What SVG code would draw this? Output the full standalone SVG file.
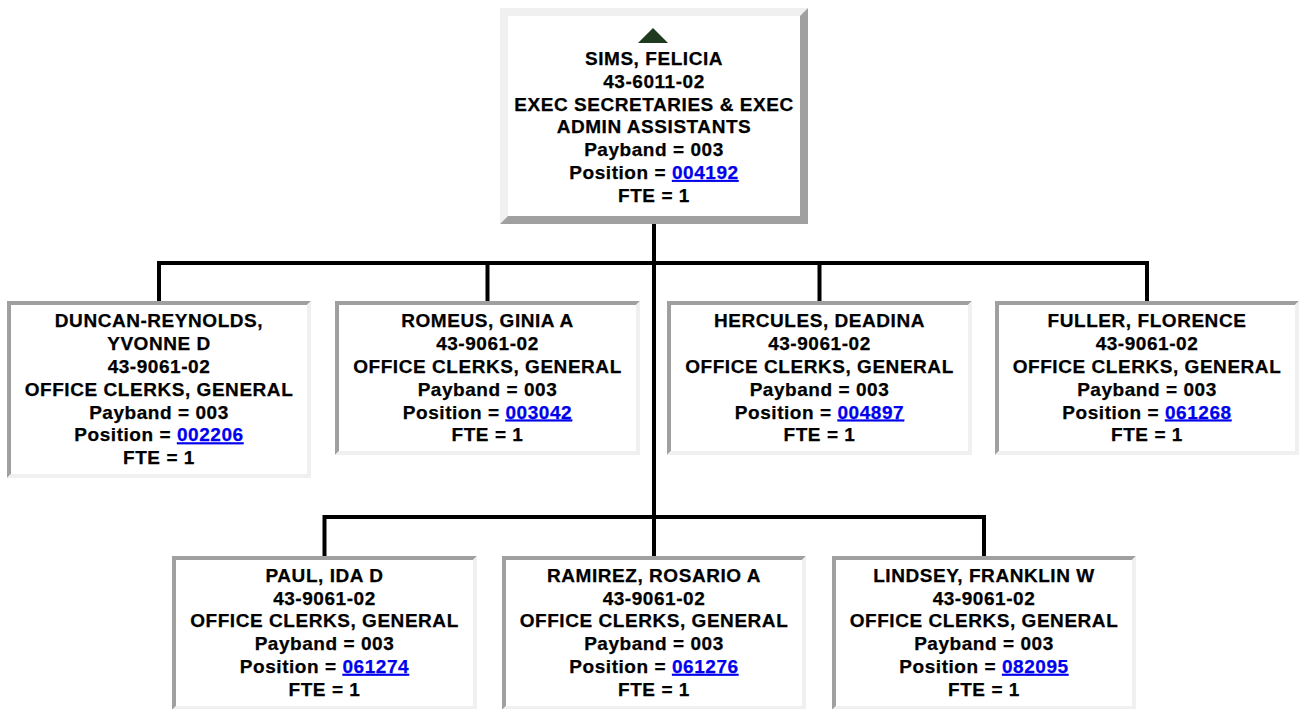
<svg xmlns="http://www.w3.org/2000/svg" width="1299" height="709" viewBox="0 0 1299 709">
<style>
.bg{fill:#ffffff}
.dk{fill:#a0a0a0}
.lt{fill:#f0f0f0}
.c{stroke:#000;stroke-width:4;fill:none}
text{font-family:"Liberation Sans",Arial,sans-serif;font-weight:bold;font-size:19px;letter-spacing:0.55px;fill:#000;stroke:#000;stroke-width:0.25px;text-anchor:middle}
.lk{fill:#0000ee;stroke:#0000ee;text-decoration:underline}
</style>
<rect width="1299" height="709" fill="#fff"/>
<g id="connectors">
<path class="c" d="M654 224V556"/>
<path class="c" d="M157 263H1149M159 263V301M487.5 263V301M819.5 263V301M1147 263V301"/>
<path class="c" d="M322.5 517H986M324.5 517V556M984 517V556"/>
</g>
<g id="sims">
<rect class="bg" x="500" y="8" width="308" height="216"/>
<polygon class="lt" points="500,8 808,8 800,16 508,16 508,216 500,224"/>
<polygon class="dk" points="808,8 808,224 500,224 508,216 800,216 800,16"/>
<polygon points="653,28 668,43 638,43" fill="#1f3a1f"/>
<text x="654" y="65">SIMS, FELICIA</text>
<text x="654" y="87.8">43-6011-02</text>
<text x="654" y="110.6">EXEC SECRETARIES &amp; EXEC</text>
<text x="654" y="133.4">ADMIN ASSISTANTS</text>
<text x="654" y="156.2">Payband = 003</text>
<text x="654" y="179">Position = <tspan class="lk">004192</tspan></text>
<text x="654" y="201.8">FTE = 1</text>
</g>
<g id="duncan">
<rect class="bg" x="7" y="301" width="304" height="177"/>
<polygon class="dk" points="7,301 311,301 307,305 11,305 11,474 7,478"/>
<polygon class="lt" points="311,301 311,478 7,478 11,474 307,474 307,305"/>
<text x="159" y="327.3">DUNCAN-REYNOLDS,</text>
<text x="159" y="350.1">YVONNE D</text>
<text x="159" y="372.9">43-9061-02</text>
<text x="159" y="395.7">OFFICE CLERKS, GENERAL</text>
<text x="159" y="418.5">Payband = 003</text>
<text x="159" y="441.3">Position = <tspan class="lk">002206</tspan></text>
<text x="159" y="464.1">FTE = 1</text>
</g>
<g id="romeus">
<rect class="bg" x="335" y="301" width="305" height="154"/>
<polygon class="dk" points="335,301 640,301 636,305 339,305 339,451 335,455"/>
<polygon class="lt" points="640,301 640,455 335,455 339,451 636,451 636,305"/>
<text x="487.5" y="327.3">ROMEUS, GINIA A</text>
<text x="487.5" y="350.1">43-9061-02</text>
<text x="487.5" y="372.9">OFFICE CLERKS, GENERAL</text>
<text x="487.5" y="395.7">Payband = 003</text>
<text x="487.5" y="418.5">Position = <tspan class="lk">003042</tspan></text>
<text x="487.5" y="441.3">FTE = 1</text>
</g>
<g id="hercules">
<rect class="bg" x="667" y="301" width="305" height="154"/>
<polygon class="dk" points="667,301 972,301 968,305 671,305 671,451 667,455"/>
<polygon class="lt" points="972,301 972,455 667,455 671,451 968,451 968,305"/>
<text x="819.5" y="327.3">HERCULES, DEADINA</text>
<text x="819.5" y="350.1">43-9061-02</text>
<text x="819.5" y="372.9">OFFICE CLERKS, GENERAL</text>
<text x="819.5" y="395.7">Payband = 003</text>
<text x="819.5" y="418.5">Position = <tspan class="lk">004897</tspan></text>
<text x="819.5" y="441.3">FTE = 1</text>
</g>
<g id="fuller">
<rect class="bg" x="995" y="301" width="304" height="154"/>
<polygon class="dk" points="995,301 1299,301 1295,305 999,305 999,451 995,455"/>
<polygon class="lt" points="1299,301 1299,455 995,455 999,451 1295,451 1295,305"/>
<text x="1147" y="327.3">FULLER, FLORENCE</text>
<text x="1147" y="350.1">43-9061-02</text>
<text x="1147" y="372.9">OFFICE CLERKS, GENERAL</text>
<text x="1147" y="395.7">Payband = 003</text>
<text x="1147" y="418.5">Position = <tspan class="lk">061268</tspan></text>
<text x="1147" y="441.3">FTE = 1</text>
</g>
<g id="paul">
<rect class="bg" x="172" y="556" width="305" height="154"/>
<polygon class="dk" points="172,556 477,556 473,560 176,560 176,706 172,710"/>
<polygon class="lt" points="477,556 477,710 172,710 176,706 473,706 473,560"/>
<text x="324.5" y="581.7">PAUL, IDA D</text>
<text x="324.5" y="604.5">43-9061-02</text>
<text x="324.5" y="627.3">OFFICE CLERKS, GENERAL</text>
<text x="324.5" y="650.1">Payband = 003</text>
<text x="324.5" y="672.9">Position = <tspan class="lk">061274</tspan></text>
<text x="324.5" y="695.7">FTE = 1</text>
</g>
<g id="ramirez">
<rect class="bg" x="502" y="556" width="304" height="154"/>
<polygon class="dk" points="502,556 806,556 802,560 506,560 506,706 502,710"/>
<polygon class="lt" points="806,556 806,710 502,710 506,706 802,706 802,560"/>
<text x="654" y="581.7">RAMIREZ, ROSARIO A</text>
<text x="654" y="604.5">43-9061-02</text>
<text x="654" y="627.3">OFFICE CLERKS, GENERAL</text>
<text x="654" y="650.1">Payband = 003</text>
<text x="654" y="672.9">Position = <tspan class="lk">061276</tspan></text>
<text x="654" y="695.7">FTE = 1</text>
</g>
<g id="lindsey">
<rect class="bg" x="832" y="556" width="304" height="154"/>
<polygon class="dk" points="832,556 1136,556 1132,560 836,560 836,706 832,710"/>
<polygon class="lt" points="1136,556 1136,710 832,710 836,706 1132,706 1132,560"/>
<text x="984" y="581.7">LINDSEY, FRANKLIN W</text>
<text x="984" y="604.5">43-9061-02</text>
<text x="984" y="627.3">OFFICE CLERKS, GENERAL</text>
<text x="984" y="650.1">Payband = 003</text>
<text x="984" y="672.9">Position = <tspan class="lk">082095</tspan></text>
<text x="984" y="695.7">FTE = 1</text>
</g>
</svg>
